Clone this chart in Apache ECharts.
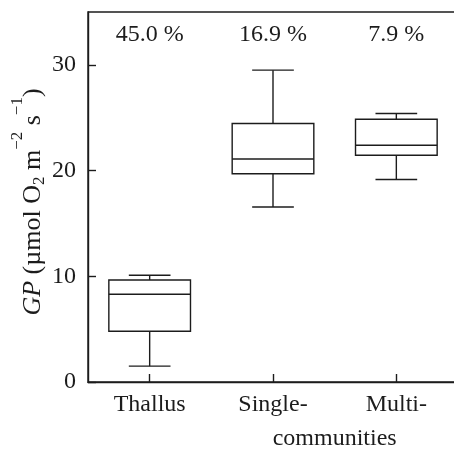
<!DOCTYPE html>
<html>
<head>
<meta charset="utf-8">
<script src="https://cdn.jsdelivr.net/npm/echarts@6/dist/echarts.min.js"></script>
<style>
html,body{margin:0;padding:0;background:#fff;}
#chart{width:454px;height:449px;}
</style>
</head>
<body>
<div id="chart"></div>
<script>
// Data
var categories = ['Thallus', 'Single-', 'Multi-'];
var sharedSecondLine = 'communities';
// [lower whisker, Q1, median, Q3, upper whisker]
var boxStats = [
  [1.5, 4.8, 8.3, 9.65, 10.1],
  [16.55, 19.7, 21.1, 24.45, 29.5],
  [19.15, 21.45, 22.4, 24.85, 25.4]
];
var percentLabels = ['45.0 %', '16.9 %', '7.9 %'];
var yTicks = [0, 10, 20, 30];

var FONT = "'Liberation Serif', 'Times New Roman', Times, serif";
var INK = '#1c1c1c';
var LABEL_Y = 32.85; // data-level where the percentage labels sit

var chart = echarts.init(document.getElementById('chart'), null, {renderer: 'canvas'});

var seriesData = boxStats.map(function (s, i) {
  return [i].concat(s);
});
var labelData = percentLabels.map(function (t, i) {
  return [i, LABEL_Y];
});

function renderBox(params, api) {
  var x = api.value(0);
  var lo = api.coord([x, api.value(1)]);
  var q1 = api.coord([x, api.value(2)]);
  var med = api.coord([x, api.value(3)]);
  var q3 = api.coord([x, api.value(4)]);
  var hi = api.coord([x, api.value(5)]);
  var band = api.size([1, 0])[0];
  var bw = band * 0.662;
  var cw = band * 0.338;
  var cx = lo[0];
  var st = {stroke: INK, lineWidth: 1.4, fill: null};
  return {
    type: 'group',
    children: [
      {type: 'rect', shape: {x: cx - bw / 2, y: q3[1], width: bw, height: q1[1] - q3[1]}, style: {stroke: INK, lineWidth: 1.4, fill: '#fff'}},
      {type: 'line', shape: {x1: cx - bw / 2, y1: med[1], x2: cx + bw / 2, y2: med[1]}, style: st},
      {type: 'line', shape: {x1: cx, y1: q3[1], x2: cx, y2: hi[1]}, style: st},
      {type: 'line', shape: {x1: cx, y1: q1[1], x2: cx, y2: lo[1]}, style: st},
      {type: 'line', shape: {x1: cx - cw / 2, y1: hi[1], x2: cx + cw / 2, y2: hi[1]}, style: st},
      {type: 'line', shape: {x1: cx - cw / 2, y1: lo[1], x2: cx + cw / 2, y2: lo[1]}, style: st}
    ]
  };
}

function renderLabel(params, api) {
  var p = api.coord([api.value(0), api.value(1)]);
  return {
    type: 'text',
    x: p[0], y: p[1],
    style: {
      text: percentLabels[params.dataIndex],
      fill: INK,
      font: '24px ' + FONT,
      align: 'center',
      verticalAlign: 'middle'
    }
  };
}

var option = {
  animation: false,
  backgroundColor: '#fff',
  grid: {
    left: 88, top: 12, width: 370, height: 370,
    show: true, borderColor: INK, borderWidth: 1.4,
    containLabel: false, outerBoundsMode: 'none'
  },
  xAxis: {
    type: 'category',
    data: categories,
    boundaryGap: true,
    axisLine: {show: true, lineStyle: {color: INK, width: 1.4}},
    axisTick: {show: true, inside: true, alignWithLabel: true, length: 8, lineStyle: {color: INK, width: 1.4}},
    axisLabel: {color: INK, fontFamily: FONT, fontSize: 24, margin: 11, interval: 0},
    splitLine: {show: false}
  },
  yAxis: {
    type: 'value',
    min: 0, max: 35, interval: 10,
    axisLine: {show: true, lineStyle: {color: INK, width: 1.4}},
    axisTick: {show: true, inside: true, length: 8, customValues: yTicks, lineStyle: {color: INK, width: 1.4}},
    axisLabel: {color: INK, fontFamily: FONT, fontSize: 24, margin: 12, customValues: yTicks},
    splitLine: {show: false},
    name: '{i|GP} {n|(µmol O}{sub|2}{n| m}{sup|−2}{n| s}{sup|−1}{n|)}',
    nameLocation: 'middle',
    nameRotate: 90,
    nameGap: 40,
    nameMoveOverlap: false,
    nameTextStyle: {
      color: INK, fontFamily: FONT, fontSize: 26, lineHeight: 30,
      padding: [0, 10, 0, 0],
      rich: {
        i: {fontStyle: 'italic', fontFamily: FONT, fontSize: 26, color: INK, lineHeight: 30, verticalAlign: 'middle'},
        n: {fontFamily: FONT, fontSize: 26, color: INK, lineHeight: 30, verticalAlign: 'middle'},
        sub: {fontFamily: FONT, fontSize: 17, color: INK, lineHeight: 17, verticalAlign: 'middle', padding: [14, 0, 0, 0]},
        sup: {fontFamily: FONT, fontSize: 17, color: INK, lineHeight: 17, verticalAlign: 'middle', padding: [0, 0, 31, 0]}
      }
    }
  },
  series: [
    {type: 'custom', renderItem: renderBox, data: seriesData, encode: {x: 0, y: [1, 2, 3, 4, 5]}, clip: false, silent: true},
    {type: 'custom', renderItem: renderLabel, data: labelData, encode: {x: 0, y: 1}, clip: false, silent: true}
  ]
};
chart.setOption(option);

// shared second line of the "Single-" / "Multi-" labels, centred between those categories
var pA = chart.convertToPixel({xAxisIndex: 0, yAxisIndex: 0}, [1, 0]);
var pB = chart.convertToPixel({xAxisIndex: 0, yAxisIndex: 0}, [2, 0]);
chart.setOption({
  graphic: [{
    type: 'text',
    x: (pA[0] + pB[0]) / 2,
    y: pA[1] + 57,
    style: {text: sharedSecondLine, fill: INK, font: '24px ' + FONT, align: 'center', verticalAlign: 'middle'}
  }]
});
</script>
</body>
</html>
